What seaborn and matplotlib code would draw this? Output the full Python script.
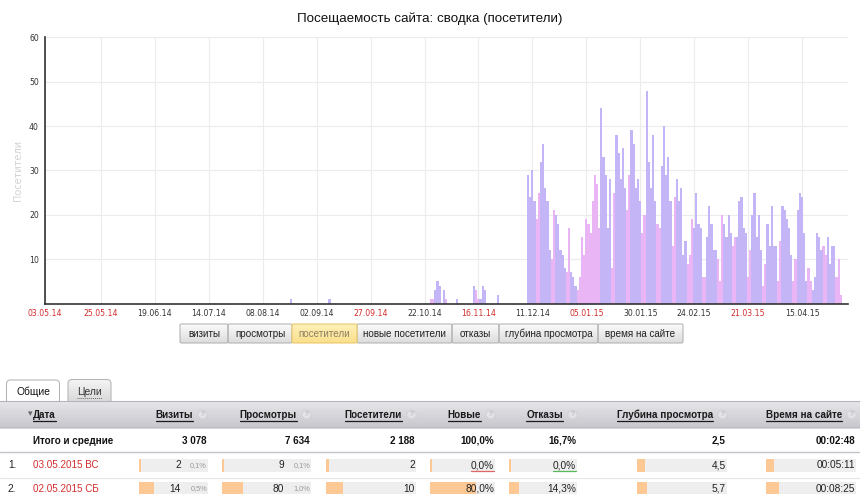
import numpy as np
import pandas as pd
import seaborn as sns
import matplotlib.pyplot as plt
from matplotlib.patches import Rectangle, FancyBboxPatch, Circle
from matplotlib.colors import LinearSegmentedColormap

# ---------------- chart data ----------------
period_start = '2014-05-03'
period_end = '2015-05-03'

# a few single visitors before the site really started
early_dates = ['2014-08-21', '2014-09-08', '2014-10-25', '2014-10-26', '2014-10-27',
               '2014-10-28', '2014-10-29', '2014-10-31', '2014-11-01', '2014-11-06',
               '2014-11-14', '2014-11-15', '2014-11-16', '2014-11-17', '2014-11-18',
               '2014-11-19', '2014-11-25']
early_visitors = [1, 1, 1, 1, 3, 5, 4, 3, 1, 1, 4, 3, 1, 1, 4, 3, 2]

# daily visitors starting 09.12.2014
main_start = '2014-12-09'
main_visitors = [29, 24, 30, 23, 19, 25, 32, 36, 26, 23,
                 12, 10, 21, 20, 18, 12, 11, 8, 7, 17,
                 7, 6, 4, 3, 6, 15, 11, 19, 18, 16,
                 23, 29, 27, 17, 44, 33, 29, 17, 28, 8,
                 25, 38, 34, 28, 35, 26, 21, 29, 39, 36,
                 26, 28, 23, 16, 20, 48, 32, 26, 38, 23,
                 18, 17, 31, 40, 29, 33, 23, 13, 24, 28,
                 23, 26, 11, 14, 9, 11, 19, 17, 25, 18,
                 17, 6, 6, 15, 22, 18, 12, 12, 10, 5,
                 20, 18, 15, 20, 16, 13, 15, 15, 23, 24,
                 17, 16, 6, 12, 20, 25, 15, 20, 12, 4,
                 9, 18, 13, 22, 13, 13, 5, 14, 22, 21,
                 19, 17, 11, 5, 10, 21, 25, 24, 16, 5,
                 8, 5, 3, 6, 16, 15, 12, 13, 11, 15,
                 9, 13, 13, 6, 10, 2]

holidays = ['2014-06-12', '2014-06-13', '2014-11-03', '2014-11-04',
            '2015-01-01', '2015-01-02', '2015-01-05', '2015-01-06', '2015-01-07',
            '2015-01-08', '2015-01-09', '2015-02-23', '2015-03-09', '2015-05-01']

title = 'Посещаемость сайта: сводка (посетители)'
y_label = 'Посетители'
y_ticks = [10, 20, 30, 40, 50, 60]

# ---------------- switch buttons ----------------
buttons = ['визиты', 'просмотры', 'посетители', 'новые посетители',
           'отказы', 'глубина просмотра', 'время на сайте']
active_button = 'посетители'

# ---------------- table ----------------
tabs = ['Общие', 'Цели']
columns = ['Визиты', 'Просмотры', 'Посетители', 'Новые', 'Отказы',
           'Глубина просмотра', 'Время на сайте']
totals = ['3 078', '7 634', '2 188', '100,0%', '16,7%', '2,5', '00:02:48']
row_dates = ['03.05.2015 ВС', '02.05.2015 СБ']
row_visits = [2, 14]
row_visits_share = ['0,1%', '0,5%']
row_views = [9, 80]
row_views_share = ['0,1%', '1,0%']
row_visitors = [2, 10]
row_new = [0.0, 80.0]
row_bounce = [0.0, 14.3]
row_depth = [4.5, 5.7]
row_time_sec = [311, 505]

# ---------------- layout (pixels) ----------------
W, H = 860, 494
plot_l, plot_r, plot_t, plot_b = 45, 848, 37.3, 303.5
button_edges = [180, 228, 292, 357, 452, 499, 598, 683]
cell_x = [(139, 208), (222, 311), (326, 416), (430, 495), (509, 577), (637, 727), (766, 856)]
head_right = [193, 297, 402, 481, 563, 713, 842]
col_max = [64, 340, 53, 113, 100, 50, 3600]

purple = '#c4b5f6'
pink = '#e9b5f5'
red = '#d22c2c'
fs = 7.1

sns.set_theme(style='white')
plt.rcParams['font.family'] = ['Liberation Sans', 'DejaVu Sans']

fig = plt.figure(figsize=(W / 100, H / 100), dpi=100)

# ---------------- bar chart ----------------
dates = pd.date_range(period_start, period_end, freq='D')
visitors = pd.Series(0, index=dates)
visitors[pd.to_datetime(early_dates)] = early_visitors
visitors[pd.date_range(main_start, periods=len(main_visitors), freq='D')] = main_visitors

df = pd.DataFrame({'date': dates, 'visitors': visitors.values})
df['day'] = np.arange(len(df))
df['off'] = (df['date'].dt.dayofweek >= 5) | df['date'].isin(pd.to_datetime(holidays))
df['kind'] = np.where(df['off'], 'off', 'work')

ax = fig.add_axes([plot_l / W, 1 - plot_b / H, (plot_r - plot_l) / W, (plot_b - plot_t) / H])
ax.set_zorder(5)
sns.barplot(data=df, x='day', y='visitors', hue='kind',
            palette={'work': purple, 'off': pink}, native_scale=True, dodge=False,
            width=1.0, saturation=1, linewidth=0, legend=False, errorbar=None, ax=ax)
# one bar per day, touching its neighbours
for bar in ax.patches:
    mid = bar.get_x() + bar.get_width() / 2
    bar.set_x(mid - 0.52)
    bar.set_width(1.04)

px_per_day = 2.157
x_left = -(53.5 - plot_l) / px_per_day
x_right = x_left + (plot_r - plot_l) / px_per_day
ax.set_xlim(x_left, x_right)
ax.set_ylim(0, 60)

tick_days = list(range(22, len(df), 25))
tick_pos = [x_left] + tick_days
tick_dates = [df['date'].iloc[0]] + [df['date'].iloc[d] for d in tick_days]
tick_off = [bool(df['off'].iloc[0])] + [bool(df['off'].iloc[d]) for d in tick_days]
ax.set_xticks(tick_pos)
ax.set_xticklabels([d.strftime('%d.%m.%y') for d in tick_dates], family='DejaVu Sans', fontsize=5.6)
for lbl, off in zip(ax.get_xticklabels(), tick_off):
    lbl.set_color(red if off else '#333333')
ax.set_yticks(y_ticks)
ax.set_yticklabels([str(v) for v in y_ticks], family='DejaVu Sans', fontsize=5.6, color='#333333')
ax.tick_params(axis='x', length=2.5, width=0.7, color='#d8dcec', pad=1.2)
ax.tick_params(axis='y', length=0, pad=4.5)
ax.grid(True, color='#ececec', linewidth=0.8)
ax.set_axisbelow(True)
for side in ['top', 'right']:
    ax.spines[side].set_visible(False)
for side in ['left', 'bottom']:
    ax.spines[side].set_color('#333333')
    ax.spines[side].set_linewidth(1.2)
ax.set_xlabel('')
ax.set_ylabel(y_label, color='#d2d2d2', fontsize=7, family='DejaVu Sans')
ax.yaxis.set_label_coords((23 - plot_l) / (plot_r - plot_l), 0.5)

fig.text(430 / W, 1 - 19 / H, title, ha='center', va='center', fontsize=9.6, color='#111111')

# ---------------- page elements below the chart ----------------
ui = fig.add_axes([0, 0, 1, 1])
ui.set_zorder(1)
ui.axis('off')


def grad_box(x0, y0, x1, y1, c_top, c_bot, edge, radius=2.5, lw=0.75, z=2):
    patch = FancyBboxPatch((x0, y0), x1 - x0, y1 - y0,
                           boxstyle=f'round,pad=0,rounding_size={radius}',
                           facecolor='none', edgecolor=edge, linewidth=lw, zorder=z + 1)
    ui.add_patch(patch)
    cmap = LinearSegmentedColormap.from_list('g', [c_top, c_bot])
    im = ui.imshow(np.linspace(0, 1, 64).reshape(-1, 1), cmap=cmap, aspect='auto',
                   extent=(x0, x1, y1, y0), origin='upper', zorder=z)
    im.set_clip_path(patch)


# metric buttons
for i, name in enumerate(buttons):
    x0, x1 = button_edges[i], button_edges[i + 1]
    if name == active_button:
        grad_box(x0, 324, x1, 343, '#fdf0b8', '#fbe08c', '#e9c766', radius=1.5, z=4)
        col = '#8d7f63'
    else:
        grad_box(x0, 324, x1, 343, '#fbfbfb', '#dcdcdc', '#b2b2b2', radius=1.5)
        col = '#222222'
    ui.text((x0 + x1) / 2, 334, name, ha='center', va='center', fontsize=fs, color=col, zorder=6)

# tabs
grad_box(68, 379.5, 111, 405, '#f4f4f4', '#d6d6d6', '#b4b4b4', radius=4)
grad_box(6.5, 380, 59.5, 405, '#ffffff', '#ffffff', '#b4b4b4', radius=4)
ui.text(33, 392, tabs[0], ha='center', va='center', fontsize=fs + 0.3, color='#111111', zorder=6)
tab2 = ui.text(89.5, 392, tabs[1], ha='center', va='center', fontsize=fs + 0.3, color='#333333',
               zorder=6)

# header band
grad_box(-2, 401.5, 862, 428, '#e6e6ea', '#c7c7cd', '#b2b2ba', radius=0.1, z=7)

underlined = []
hdr = ui.text(33, 415, 'Дата', ha='left', va='center', fontsize=fs, weight='bold',
              color='#1a1a1a', zorder=9)
underlined.append((hdr, '#1a1a1a', '-'))
ui.text(30.5, 414, '▾', ha='center', va='center', fontsize=6.5, color='#666666',
        family='DejaVu Sans', zorder=9)
for name, xr in zip(columns, head_right):
    t = ui.text(xr, 415, name, ha='right', va='center', fontsize=fs, weight='bold',
                color='#1a1a1a', zorder=9)
    underlined.append((t, '#1a1a1a', '-'))
    ui.add_patch(Circle((xr + 9.5, 414.5), 4.6, facecolor='#e3e3e6', edgecolor='#d0d0d4',
                        linewidth=0.6, zorder=9))
    ui.text(xr + 9.5, 414.8, '?', ha='center', va='center', fontsize=5, color='#a8a8ae', zorder=10)

# totals row
ui.text(33, 440.5, 'Итого и средние', ha='left', va='center', fontsize=fs, weight='bold',
        color='#111111', zorder=6)
for val, (c0, c1) in zip(totals, cell_x):
    ui.text(c1 - 1, 440.5, val, ha='right', va='center', fontsize=fs, weight='bold',
            color='#111111', zorder=6)
ui.plot([0, W], [452, 452], color='#c3c3cb', linewidth=1, zorder=6)
ui.plot([0, W], [477.5, 477.5], color='#e6e6e6', linewidth=0.8, zorder=6)

# data rows
row_y = [465, 488.5]
for r in range(len(row_dates)):
    y = row_y[r]
    ui.text(8, y, f'{r + 1}.', ha='left', va='center', fontsize=fs + 0.3, color='#222222', zorder=6)
    ui.text(33, y, row_dates[r], ha='left', va='center', fontsize=fs, color=red, zorder=6)
    values = [row_visits[r], row_views[r], row_visitors[r], row_new[r], row_bounce[r],
              row_depth[r], row_time_sec[r]]
    texts = [str(row_visits[r]), str(row_views[r]), str(row_visitors[r]),
             f'{row_new[r]:.1f}%'.replace('.', ','), f'{row_bounce[r]:.1f}%'.replace('.', ','),
             f'{row_depth[r]:.1f}'.replace('.', ','),
             '{:02d}:{:02d}:{:02d}'.format(row_time_sec[r] // 3600, row_time_sec[r] % 3600 // 60,
                                           row_time_sec[r] % 60)]
    for c, ((c0, c1), v, txt, vmax) in enumerate(zip(cell_x, values, texts, col_max)):
        ui.add_patch(Rectangle((c0, y - 6.5), c1 - c0, 13, facecolor='#eeeeee',
                               edgecolor='none', zorder=5))
        bar_w = max(2, (c1 - c0) * v / vmax)
        ui.add_patch(Rectangle((c0, y - 6.5), bar_w, 13, facecolor='#fdc893',
                               edgecolor='none', zorder=5.5))
        xr = c1 - 1
        if c == 0:
            xr = 181
            ui.text(c1 - 1, y + 0.5, row_visits_share[r], ha='right', va='center', fontsize=5.3,
                    color='#999999', zorder=6)
        if c == 1:
            xr = 284
            ui.text(c1 - 1, y + 0.5, row_views_share[r], ha='right', va='center', fontsize=5.3,
                    color='#999999', zorder=6)
        t = ui.text(xr, y, txt, ha='right', va='center', fontsize=fs + 0.2, color='#222222', zorder=6)
        if r == 0 and c == 3:
            underlined.append((t, '#e06666', '-'))
        if r == 0 and c == 4:
            underlined.append((t, '#5cb85c', '-'))

ui.set_xlim(0, W)
ui.set_ylim(H, 0)

# underlines need the rendered text extents
fig.canvas.draw()
inv = ui.transData.inverted()
for t, col, ls in underlined:
    bb = t.get_window_extent()
    (x0, y0), (x1, y1) = inv.transform([(bb.x0, bb.y0), (bb.x1, bb.y1)])
    ui.plot([x0, x1], [y0 + 0.5, y0 + 0.5], color=col, linewidth=0.9, linestyle=ls, zorder=10)
bb = tab2.get_window_extent()
(x0, y0), (x1, y1) = inv.transform([(bb.x0, bb.y0), (bb.x1, bb.y1)])
ui.plot([x0, x1], [y0 + 0.5, y0 + 0.5], color='#666666', linewidth=0.7, linestyle=(0, (1, 1)), zorder=10)
ui.set_xlim(0, W)
ui.set_ylim(H, 0)

fig.savefig('out.png', dpi=100)
